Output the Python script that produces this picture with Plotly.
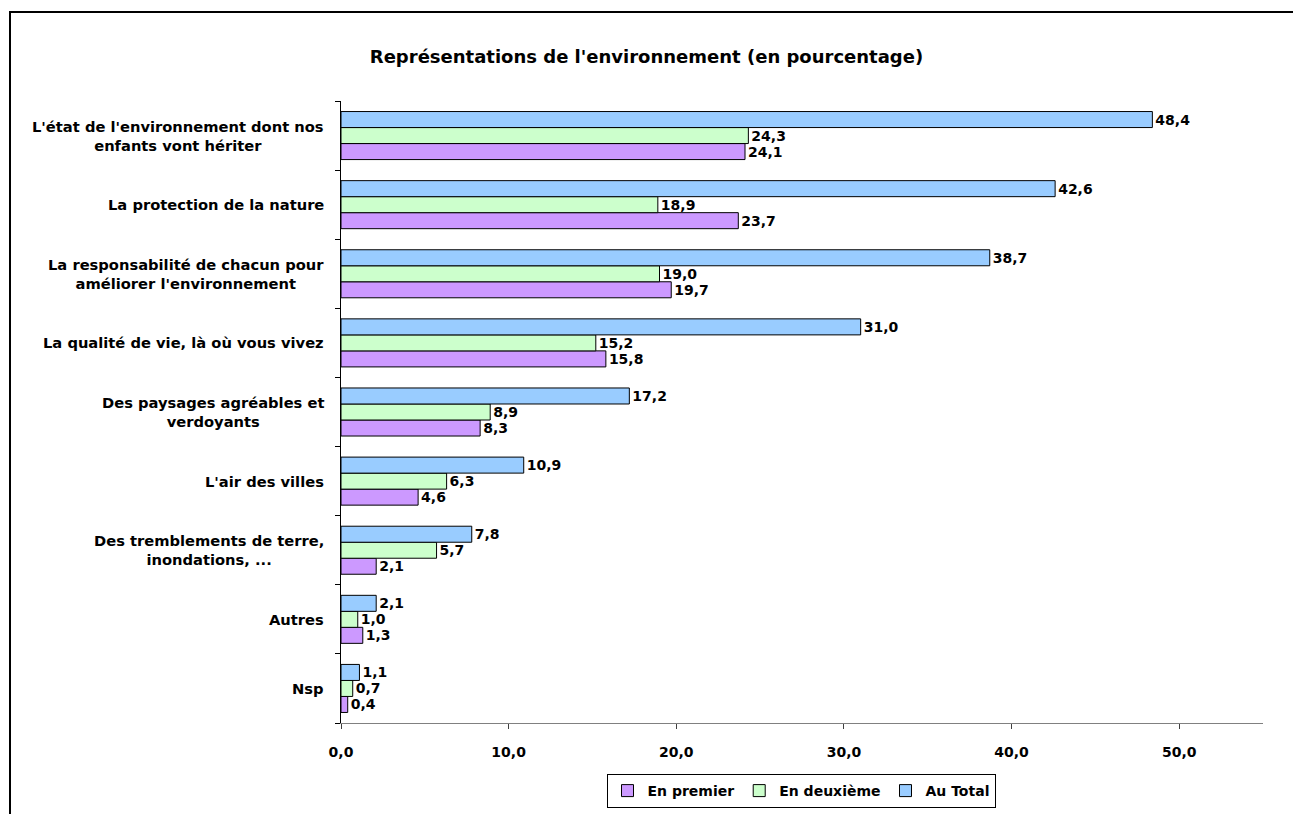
import plotly.graph_objects as go

# Categories listed from bottom to top of the chart
categories = [
    "Nsp",
    "Autres",
    "Des tremblements de terre,\ninondations, ...",
    "L'air des villes",
    "Des paysages agréables et\nverdoyants",
    "La qualité de vie, là où vous vivez",
    "La responsabilité de chacun pour\naméliorer l'environnement",
    "La protection de la nature",
    "L'état de l'environnement dont nos\nenfants vont hériter",
]
en_premier = [0.4, 1.3, 2.1, 4.6, 8.3, 15.8, 19.7, 23.7, 24.1]
en_deuxieme = [0.7, 1.0, 5.7, 6.3, 8.9, 15.2, 19.0, 18.9, 24.3]
au_total = [1.1, 2.1, 7.8, 10.9, 17.2, 31.0, 38.7, 42.6, 48.4]
x_ticks = [0, 10, 20, 30, 40, 50]

FONT = "DejaVu Sans, Verdana, sans-serif"
W, H = 1293, 814
L, R, T, B = 341, 30, 101, 91
plot_w = W - L - R
plot_h = H - T - B

series = [
    ("En premier", en_premier, "#CC99FF"),
    ("En deuxième", en_deuxieme, "#CCFFCC"),
    ("Au Total", au_total, "#99CCFF"),
]

fig = go.Figure()
for name, vals, color in series:
    fig.add_trace(go.Bar(
        name=name,
        y=categories,
        x=vals,
        orientation="h",
        marker=dict(color=color, line=dict(color="black", width=1)),
        texttemplate="%{x:.1f}",
        textposition="outside",
        textfont=dict(family=FONT, size=14, color="black", weight="bold"),
        cliponaxis=False,
    ))

# Category labels: right-aligned block next to the axis, lines centered
label_anns = []
for cat in categories:
    label_anns.append(dict(
        x=0, y=cat, xref="x", yref="y",
        text="<br>".join(cat.split("\n")), showarrow=False,
        xanchor="right", yanchor="middle", align="center",
        xshift=-15,
        font=dict(family=FONT, size=14.7, color="black", weight="bold"),
    ))

fig.update_layout(
    width=W, height=H,
    margin=dict(l=L, r=R, t=T, b=B, autoexpand=False),
    paper_bgcolor="white", plot_bgcolor="white",
    separators=", ",
    barmode="group",
    bargap=0.305,
    bargroupgap=0,
    title=dict(
        text="Représentations de l'environnement (en pourcentage)",
        x=0.5, xref="container", xanchor="center",
        y=1 - 57 / H, yref="container", yanchor="middle",
        font=dict(family=FONT, size=18, color="black", weight="bold"),
    ),
    xaxis=dict(
        range=[0, 55],
        tickvals=x_ticks,
        tickformat=".1f",
        showgrid=False, zeroline=False,
        showline=True, linecolor="#808080", linewidth=1,
        ticks="outside", ticklen=5, tickcolor="#404040",
        ticklabelstandoff=11,
        tickfont=dict(family=FONT, size=14, color="black", weight="bold"),
        automargin=False,
    ),
    yaxis=dict(
        categoryorder="array", categoryarray=categories,
        showticklabels=False,
        showgrid=False, zeroline=False,
        showline=True, linecolor="black", linewidth=1,
        ticks="outside", ticklen=5, tickcolor="black",
        tickson="boundaries",
        automargin=False,
    ),
    legend=dict(
        orientation="h",
        x=(801 - L) / plot_w, xanchor="center",
        y=(H - B - 774) / plot_h, yanchor="top",
        bordercolor="black", borderwidth=1,
        font=dict(family=FONT, size=14, color="black", weight="bold"),
        traceorder="normal",
        itemwidth=30,
    ),
    annotations=label_anns,
)

# Outer frame around the chart area
fig.add_shape(
    type="rect", xref="paper", yref="paper",
    x0=(10 - L) / plot_w, x1=1.2,
    y0=-0.4, y1=(H - B - 12) / plot_h,
    line=dict(color="black", width=2), fillcolor="rgba(0,0,0,0)",
    layer="above",
)

fig.write_html("out.html")
